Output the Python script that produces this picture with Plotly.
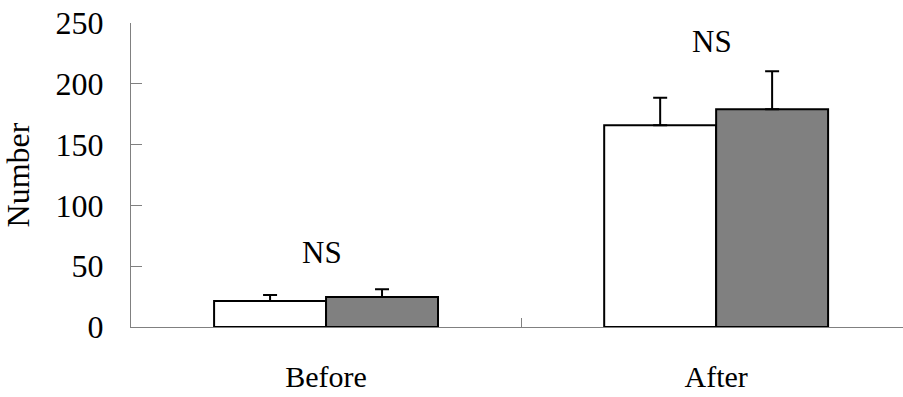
import plotly.graph_objects as go

categories = ["Before", "After"]
group1_values = [21.4, 165.9]
group1_errors = [5.0, 22.7]
group2_values = [24.7, 179.0]
group2_errors = [6.3, 31.3]
ns_labels = ["NS", "NS"]
ns_y = [61.3, 235.0]
y_ticks = [0, 50, 100, 150, 200, 250]

FONT = "Liberation Serif, Times New Roman, serif"

fig = go.Figure()
fig.add_trace(go.Bar(
    x=categories, y=group1_values,
    marker=dict(color="white", line=dict(color="black", width=2)),
    error_y=dict(type="data", array=group1_errors, arrayminus=[0, 0], symmetric=False,
                 color="black", thickness=2, width=7),
    showlegend=False,
))
fig.add_trace(go.Bar(
    x=categories, y=group2_values,
    marker=dict(color="#808080", line=dict(color="black", width=2)),
    error_y=dict(type="data", array=group2_errors, arrayminus=[0, 0], symmetric=False,
                 color="black", thickness=2, width=7),
    showlegend=False,
))

for c, t, yv in zip(categories, ns_labels, ns_y):
    fig.add_annotation(x=c, y=yv, text=t, showarrow=False, xshift=-4,
                       font=dict(family=FONT, size=31, color="black"),
                       xanchor="center", yanchor="middle")

fig.update_layout(
    width=903, height=397,
    margin=dict(l=131, r=0, t=23, b=70),
    paper_bgcolor="white", plot_bgcolor="white",
    barmode="group", bargap=0.426, bargroupgap=0,
    font=dict(family=FONT, size=31, color="black"),
    xaxis=dict(
        range=[-0.5, 1.479],
        automargin=False,
        showline=True, linecolor="#808080", linewidth=1,
        ticks="inside", tickson="boundaries", ticklen=9, tickcolor="#808080", tickwidth=1,
        showgrid=False, zeroline=False,
        ticklabelstandoff=23,
        tickfont=dict(family=FONT, size=30, color="black"),
    ),
    yaxis=dict(
        range=[0, 250],
        automargin=False,
        tickvals=y_ticks,
        showline=True, linecolor="#808080", linewidth=1,
        ticks="inside", ticklen=11, tickcolor="#808080", tickwidth=1,
        showgrid=False, zeroline=False,
        ticklabelstandoff=20,
        tickfont=dict(family=FONT, size=32, color="black"),
        title=dict(text="Number", standoff=20, font=dict(family=FONT, size=32, color="black")),
    ),
)

fig.write_html(
    "out.html",
    config={"displayModeBar": False, "responsive": False},
    post_script=(
        "document.documentElement.style.overflow='hidden';"
        "document.documentElement.style.margin='0';"
        "document.body.style.margin='0';"
        "document.body.style.overflow='hidden';"
    ),
)
